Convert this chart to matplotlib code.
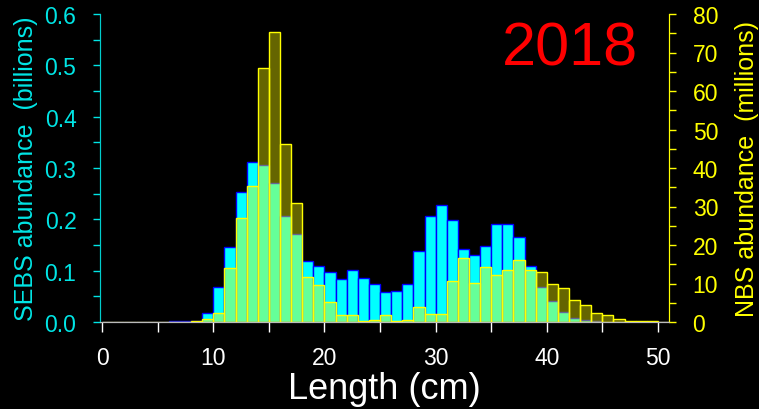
import numpy as np
import matplotlib
matplotlib.use("Agg")
import matplotlib.pyplot as plt
from matplotlib.ticker import MultipleLocator

# Length bins (left edge, cm)
lengthBins = np.arange(0, 51)

# SEBS abundance (billions)
sebs = [0, 0, 0, 0, 0, 0, 0.001, 0.002, 0.002, 0.018,
        0.068, 0.146, 0.253, 0.311, 0.306, 0.270, 0.207, 0.171, 0.119, 0.110,
        0.098, 0.083, 0.101, 0.086, 0.075, 0.058, 0.060, 0.075, 0.138, 0.207,
        0.227, 0.199, 0.142, 0.131, 0.148, 0.190, 0.190, 0.165, 0.110, 0.068,
        0.040, 0.019, 0.007, 0.004, 0.001, 0, 0, 0, 0, 0, 0]

# NBS abundance (millions)
nbs = [0, 0, 0, 0, 0, 0, 0, 0, 0.3, 0.7,
       2.4, 13.9, 26.9, 35.4, 65.9, 75.3, 46.2, 30.8, 11.7, 9.7,
       5.3, 1.7, 1.7, 0.3, 0.6, 1.7, 0.2, 0.6, 3.8, 2.0,
       2.2, 10.7, 16.6, 10.2, 14.2, 12.2, 13.6, 16.0, 13.6, 13.0,
       10.0, 8.9, 5.6, 4.3, 2.4, 1.7, 0.9, 0.3, 0.3, 0.2, 0.1]

year = "2018"

#------------------------------------------------------------------------------#

plt.rcParams['font.family'] = ['Liberation Sans', 'DejaVu Sans']

fig = plt.figure(figsize=(7.59, 4.10), dpi=100, facecolor="black")
ax = fig.add_axes([100/759, 87/410, 569/759, 308/410])
ax.set_facecolor("black")

ax.bar(lengthBins, sebs, width=1.0, align="edge",
       facecolor="#00FFFF", edgecolor="#0000FF", linewidth=1.0)
ax.set_xlim(-0.2, 51)
ax.set_ylim(0, 0.6)

ax2 = ax.twinx()
ax2.bar(lengthBins, nbs, width=1.0, align="edge",
        facecolor=(1, 1, 0, 0.4), edgecolor="#FFFF00", linewidth=1.0)
ax2.set_ylim(0, 80)

# Ticks and spines
ax.xaxis.set_major_locator(MultipleLocator(10))
ax.xaxis.set_minor_locator(MultipleLocator(5))
ax.yaxis.set_major_locator(MultipleLocator(0.1))
ax.yaxis.set_minor_locator(MultipleLocator(0.05))
ax.yaxis.set_major_formatter(plt.FormatStrFormatter("%.1f"))
ax2.yaxis.set_major_locator(MultipleLocator(10))
ax2.yaxis.set_minor_locator(MultipleLocator(5))

ax.tick_params(axis="x", which="both", colors="white", length=7, width=1,
               labelsize=16.5, pad=10)
ax.tick_params(axis="y", which="both", colors="#00E5E5", length=5, width=1,
               labelsize=16.5, pad=12)
ax2.tick_params(axis="y", which="both", colors="#FFFF00", length=5, width=1,
                labelsize=16.5, pad=12)

for a in (ax, ax2):
    a.spines["top"].set_visible(False)
    a.spines["bottom"].set_color("#BBBBBB")
    a.spines["left"].set_color("#00CCCC")
    a.spines["right"].set_color("#FFFF00")

ax.set_xlabel("Length (cm)", color="white", fontsize=26, labelpad=2)
ax.set_ylabel("SEBS abundance  (billions)", color="#00E5E5", fontsize=18,
              labelpad=5)
ax2.set_ylabel("NBS abundance  (millions)", color="#FFFF00", fontsize=18,
               labelpad=12)

ax.text(0.826, 0.886, year, transform=ax.transAxes, color="red",
        fontsize=44, ha="center", va="center")

fig.savefig("out.png", dpi=100, facecolor="black")
